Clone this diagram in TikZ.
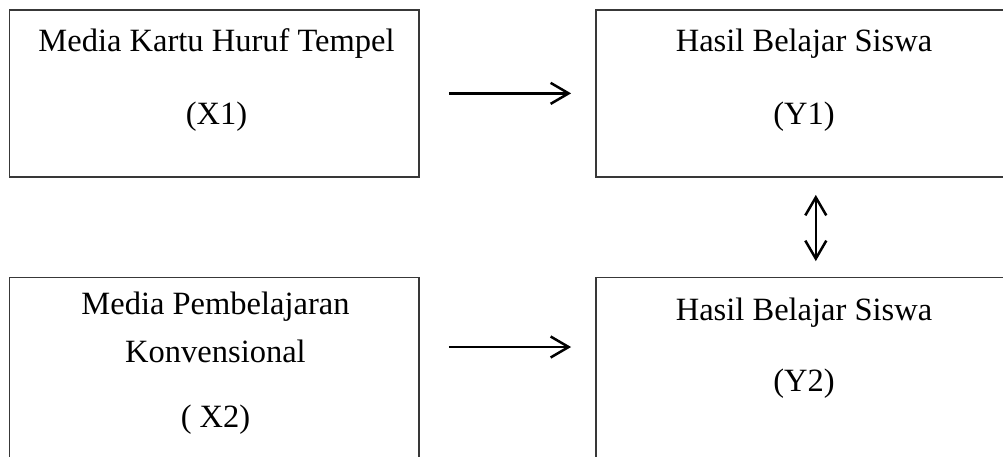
\documentclass[tikz,border=0pt]{standalone}
\usepackage{fontspec}
\setmainfont{Liberation Serif}
\usetikzlibrary{arrows.meta}
\begin{document}
\begin{tikzpicture}[x=1pt,y=-1pt,
  box/.style={draw=black!78, line width=1.8pt, rectangle, minimum width=409.2pt, inner sep=0pt},
  lbl/.style={anchor=base, inner sep=0pt, font=\fontsize{32.5}{36}\selectfont},
  arr/.style={line width=2.5pt, -{Straight Barb[length=18pt,width=21pt,line width=2.5pt]}},
  darr/.style={line width=2.5pt, {Straight Barb[length=18pt,width=21pt,line width=2.5pt]}-{Straight Barb[length=18pt,width=21pt,line width=2.5pt]}}]
\useasboundingbox (0,0) rectangle (1003,456);
\clip (0,0) rectangle (1003,456);
\node[box, minimum height=166.7pt] (tl) at (214.1,93.35) {};
\node[box, minimum height=166.7pt] (tr) at (800.6,93.35) {};
\node[box, minimum height=190pt] (bl) at (214.1,372.5) {};
\node[box, minimum height=190pt] (br) at (800.6,372.5) {};
\node[lbl] (t1) at (216.5,51) {Media Kartu Huruf Tempel};
\node[lbl] (t2) at (216.5,124) {(X1)};
\node[lbl] (t3) at (804,51) {Hasil Belajar Siswa};
\node[lbl] (t4) at (804,124) {(Y1)};
\node[lbl] (t5) at (215.5,314) {Media Pembelajaran};
\node[lbl] (t6) at (215.5,362) {Konvensional};
\node[lbl] (t7) at (215.5,427) {( X2)};
\node[lbl] (t8) at (804,320) {Hasil Belajar Siswa};
\node[lbl] (t9) at (804,391) {(Y2)};
\draw[arr, shorten <=29.3pt, shorten >=24pt] (tl.east) -- (tr.west);
\draw[arr, shorten <=29.3pt, shorten >=24pt] (tl.east |- 0,347) -- (tr.west |- 0,347);
\draw[darr, shorten <=17.3pt, shorten >=15.5pt] ([xshift=15.2pt]tr.south) -- ([xshift=15.2pt]br.north);
\end{tikzpicture}
\end{document}
